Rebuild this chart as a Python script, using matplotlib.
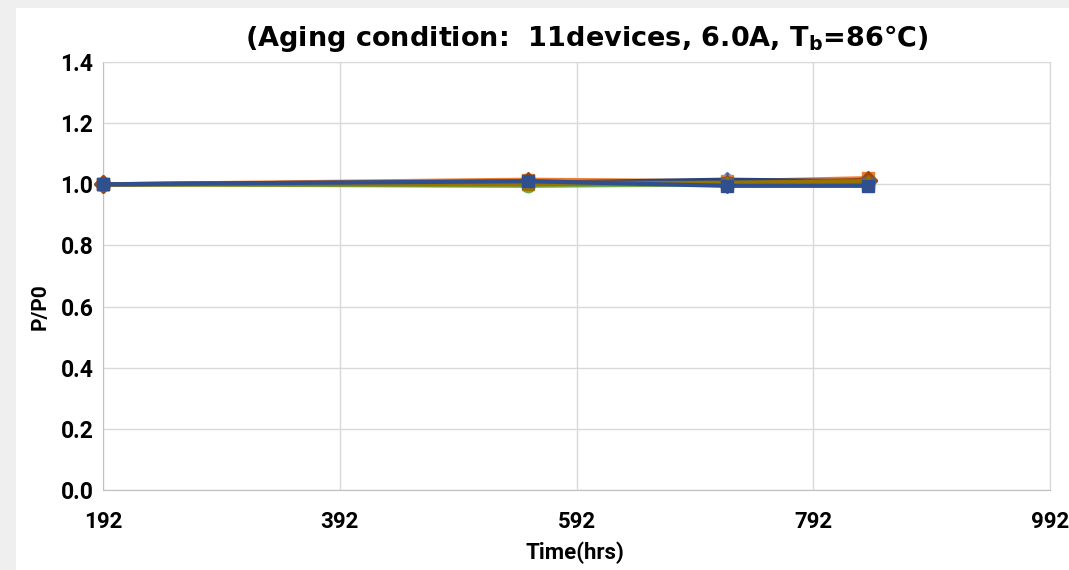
import matplotlib
matplotlib.use("Agg")
import matplotlib.pyplot as plt
from matplotlib import font_manager

# ---- data ----
time_hrs = [192, 551, 719, 838]
series_names = [f"Device {i}" for i in range(1, 12)]
series_values = [
    [1.000, 1.005, 1.010, 1.010],
    [1.000, 1.015, 1.010, 1.020],
    [1.000, 1.010, 1.005, 1.010],
    [1.000, 1.000, 1.000, 1.005],
    [1.000, 1.005, 1.010, 1.010],
    [1.000, 0.995, 1.000, 1.000],
    [1.000, 1.005, 1.015, 1.010],
    [1.000, 1.010, 1.000, 1.015],
    [1.000, 1.005, 1.005, 1.005],
    [1.000, 1.000, 1.005, 1.010],
    [1.000, 1.010, 0.995, 0.995],
]
x_ticks = [192, 392, 592, 792, 992]
y_ticks = [0.0, 0.2, 0.4, 0.6, 0.8, 1.0, 1.2, 1.4]

colors = ["#4472C4", "#ED7D31", "#A5A5A5", "#FFC000", "#5B9BD5", "#70AD47",
          "#264478", "#9E480E", "#636363", "#997300", "#2F4F8F"]
markers = ["D", "s", "^", "x", "*", "o", "+", "D", "s", "^", "s"]

installed = {f.name for f in font_manager.fontManager.ttflist}
narrow = "Liberation Sans Narrow" if "Liberation Sans Narrow" in installed else "Roboto"

fig = plt.figure(figsize=(10.69, 5.70), dpi=100)
fig.patch.set_facecolor("#efefef")
bg = fig.add_axes([16/1069, 0, 1 - 16/1069, 1 - 8/570], zorder=-5)
bg.set_facecolor("white")
bg.set_xticks([]); bg.set_yticks([])
for s in bg.spines.values():
    s.set_visible(False)

ax = fig.add_axes([103/1069, 80/570, 947/1069, 428/570], zorder=1)
ax.set_facecolor("white")

for vals, c, m, name in zip(series_values, colors, markers, series_names):
    ax.plot(time_hrs, vals, color=c, marker=m, markersize=9, linewidth=3,
            markeredgecolor=c, label=name, clip_on=False, zorder=3)

ax.set_xlim(192, 992)
ax.set_ylim(0, 1.4)
ax.set_xticks(x_ticks)
ax.set_yticks(y_ticks)
ax.set_xticklabels([str(t) for t in x_ticks])
ax.set_yticklabels([f"{t:.1f}" for t in y_ticks])
ax.grid(True, color="#d9d9d9", linewidth=1)
ax.set_axisbelow(True)
for s in ax.spines.values():
    s.set_color("#d9d9d9")
ax.spines["left"].set_color("#bfbfbf")
ax.spines["bottom"].set_color("#bfbfbf")
ax.tick_params(length=0)
for lab in ax.get_xticklabels():
    lab.set_fontfamily([narrow, "DejaVu Sans"]); lab.set_fontsize(16); lab.set_fontweight("bold")
for lab in ax.get_yticklabels():
    lab.set_fontfamily([narrow, "DejaVu Sans"]); lab.set_fontsize(16.5); lab.set_fontweight("bold")
ax.tick_params(axis="x", pad=15)
ax.tick_params(axis="y", pad=7)

ax.set_xlabel("Time(hrs)", fontsize=16, fontweight="bold", family=[narrow, "DejaVu Sans"])
ax.set_ylabel("P/P0", fontsize=15, fontweight="bold", family=[narrow, "DejaVu Sans"])
ax.xaxis.set_label_coords((575 - 103) / 947, -(553 - 490) / 428)
ax.yaxis.set_label_coords((40 - 103) / 947, (570 - 307 - 80) / 428)
ax.xaxis.label.set_va("center")
ax.yaxis.label.set_va("center")

fig.text(587/1069, 1 - 38/570, "(Aging condition:  11devices, 6.0A, T$_\\mathbf{b}$=86℃)",
         ha="center", va="center", fontsize=19.5, fontweight="bold",
         family="DejaVu Sans")

fig.savefig("out.png", dpi=100, facecolor=fig.get_facecolor())
